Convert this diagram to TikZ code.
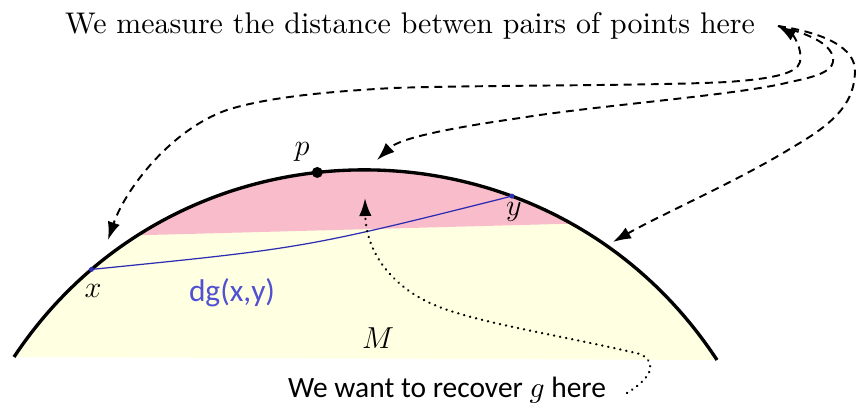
\documentclass[tikz,border=0pt]{standalone}
\usepackage{fontspec}
\newfontfamily\calib{Carlito}
\usetikzlibrary{arrows.meta}
\definecolor{pinkfill}{RGB}{249,188,203}
\definecolor{yelfill}{RGB}{255,255,225}
\definecolor{geoblue}{RGB}{80,80,210}
\definecolor{geoline}{RGB}{45,45,180}
\tikzset{
  tipstyle/.style={Latex[length=3.6mm,width=2.5mm]},
  dashedarrow/.style={line width=1.1pt, dash pattern=on 4.5pt off 3.2pt, -{Latex[length=3.6mm,width=2.5mm]}},
  dottedarrow/.style={line width=1.4pt, dash pattern=on 0.1pt off 3.4pt, line cap=round, -{Latex[length=3.6mm,width=2.5mm]}},
  mathlabel/.style={font=\fontsize{17}{20}\selectfont, inner sep=0pt},
}
\begin{document}
\begin{tikzpicture}[x=0.02cm,y=-0.02cm]
\useasboundingbox (0,0) rectangle (856,408);
% region
\fill[yelfill] (14,357) .. controls (180,107) and (551,107) .. (717,360) -- cycle;
\begin{scope}
\clip (14,357) .. controls (180,107) and (551,107) .. (717,360) -- cycle;
\fill[pinkfill] (0,239) -- (856,216) -- (856,0) -- (0,0) -- cycle;
\end{scope}
\draw[line width=1.9pt] (14,357) .. controls (180,107) and (551,107) .. (717,360)
  coordinate[pos=0.135] (x) coordinate[pos=0.44] (p) coordinate[pos=0.685] (y);
% geodesic
\draw[geoline, line width=0.7pt] (x) .. controls (305,248) .. (y);
\fill[geoline] (x) circle[radius=2.5];
\fill[geoline] (y) circle[radius=2.5];
\fill (p) circle[radius=5.5];
% labels
\node[mathlabel] (plab) at (302,152) {$p$};
\node[mathlabel] (xlab) at (93,291) {$x$};
\node[mathlabel] (ylab) at (514,212) {$y$};
\node[mathlabel] (Mlab) at (378,338) {$M$};
\node[inner sep=0pt, text=geoblue] (dlab) at (232,293) {\resizebox{1.72cm}{!}{\calib dg(x,y)}};
% texts
\node[inner sep=0pt] (top) at (410,26) {\resizebox{13.8cm}{!}{We measure the distance betwen pairs of points here}};
\node[inner sep=0pt] (bot) at (447,390) {\resizebox{6.36cm}{!}{\calib We want to recover $g$ here}};
\coordinate (s) at (778,26);
\coordinate (s2) at (627,393);
\coordinate (ta) at (108,240);
\coordinate (tb) at (377,160);
\coordinate (tc) at (613,242);
\coordinate (td) at (365,198);
% dashed arrows
\draw[dashedarrow, {Latex[length=3.6mm,width=2.5mm]}-{Latex[length=3.6mm,width=2.5mm]}] (s) .. controls (792,34) and (803,48) .. (800,62)
  .. controls (797,74) and (770,79) .. (727,82)
  .. controls (650,86) and (480,85) .. (393,88)
  .. controls (320,92) and (265,98) .. (227,110)
  .. controls (170,130) and (125,190) .. (ta);
\draw[dashedarrow] (s) .. controls (810,34) and (835,45) .. (833,62)
  .. controls (831,72) and (815,77) .. (790,82)
  .. controls (740,95) and (600,105) .. (520,118)
  .. controls (450,128) and (400,138) .. (tb);
\draw[dashedarrow] (s) .. controls (825,33) and (856,48) .. (855,72)
  .. controls (854,100) and (840,120) .. (793,147)
  .. controls (740,180) and (660,215) .. (tc);
% dotted arrow
\draw[dottedarrow] (s2) .. controls (645,382) and (662,365) .. (640,354)
  .. controls (560,335) and (470,322) .. (430,303)
  .. controls (395,287) and (366,255) .. (td);
\end{tikzpicture}
\end{document}
